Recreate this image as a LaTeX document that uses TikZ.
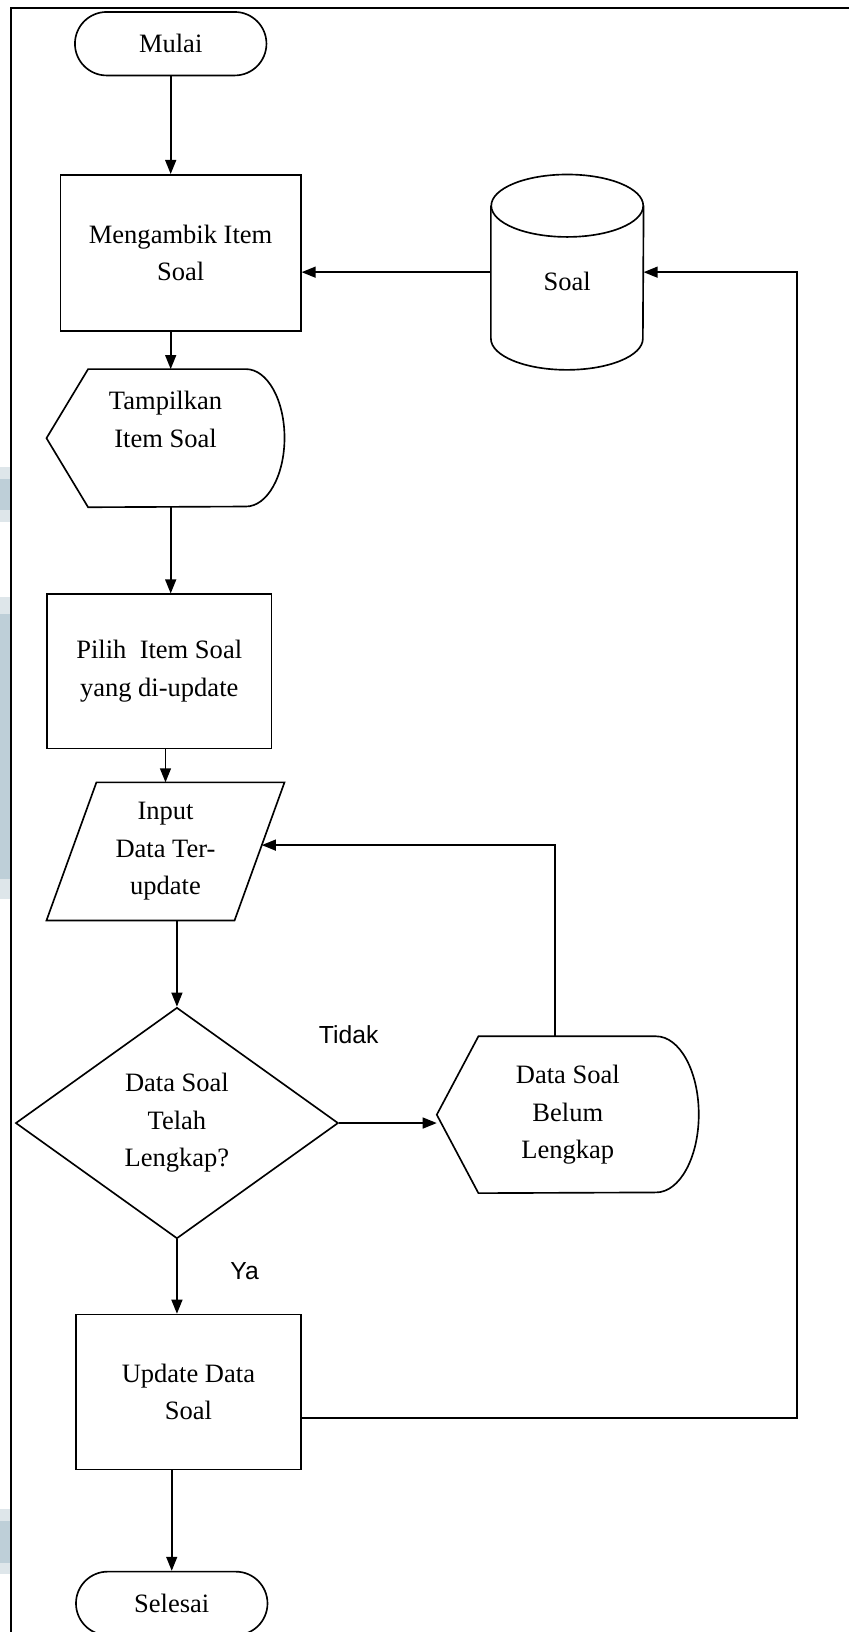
\documentclass[tikz,border=0pt]{standalone}
\usepackage{fontspec}
\setmainfont{Liberation Serif}
\newfontfamily\labelfont{Liberation Sans}
\usetikzlibrary{shapes.geometric, shapes.misc, arrows.meta, calc}
\definecolor{edgeblue}{RGB}{190, 207, 216}
\definecolor{edgepale}{RGB}{222, 230, 234}

% display shape: node, left inset, right x radius, half height
\newcommand{\dispoutline}[4]{%
  \draw[line width=0.9pt] (#1.west) -- ([xshift=#2]#1.north west) -- ([xshift=-#3]#1.north east)
    arc[start angle=90, end angle=-90, x radius=#3, y radius=#4] -- ([xshift=#2]#1.south west) -- cycle;}

\begin{document}
\begin{tikzpicture}[
  txt/.style={align=center, inner sep=0pt, font=\fontsize{14.5pt}{20.5pt}\selectfont},
  proc/.style={txt, draw, line width=0.9pt},
  term/.style={txt, draw, line width=0.9pt, rounded rectangle, minimum width=3.68cm, minimum height=1.22cm},
  bare/.style={txt},
  arr/.style={line width=0.9pt, -{Triangle[length=0.27cm, width=0.21cm]}},
  line/.style={line width=0.9pt},
  yesno/.style={inner sep=0pt, font=\labelfont\fontsize{13.5pt}{16pt}\selectfont}
]
  \useasboundingbox (0,0) rectangle (16.32,-31.36);
  % scan marks at the left edge
  \fill[edgepale] (0,-8.98) rectangle (0.2,-10.04);
  \fill[edgeblue] (0,-9.2) rectangle (0.2,-9.8);
  \fill[edgepale] (0,-11.48) rectangle (0.2,-17.28);
  \fill[edgeblue] (0,-11.8) rectangle (0.2,-16.9);
  \fill[edgepale] (0,-29.0) rectangle (0.2,-30.24);
  \fill[edgeblue] (0,-29.22) rectangle (0.2,-30.04);
  \draw[line width=1.1pt] (0.22,-31.36) -- (0.22,-0.16) -- (16.32,-0.16);

  % nodes
  \node[term] (mulai) at (3.28,-0.84) {Mulai};
  \node[proc, minimum width=4.62cm, minimum height=3.0cm] (ambil) at (3.47,-4.86) {Mengambik Item\\Soal};
  \node[bare, minimum width=2.92cm, minimum height=3.74cm] (soal) at (10.9,-5.23) {\mbox{}\\Soal};
  \node[bare, minimum width=4.56cm, minimum height=2.64cm] (tampil) at (3.18,-8.42) {Tampilkan\\Item Soal\\\mbox{}};
  \node[proc, minimum width=4.32cm, minimum height=2.96cm] (pilih) at (3.06,-12.9) {Pilih\ \ Item Soal\\yang di-update};
  \node[bare, minimum width=4.56cm, minimum height=2.64cm] (input) at (3.18,-16.36) {Input\\Data Ter-\\update};
  \node[txt, draw, line width=0.9pt, diamond, minimum width=6.2cm, minimum height=4.44cm] (dia) at (3.4,-21.58) {Data Soal\\Telah\\Lengkap?};
  \node[bare, minimum width=5.02cm, minimum height=3.0cm] (belum) at (10.91,-21.42) {Data Soal\\Belum\\Lengkap};
  \node[proc, minimum width=4.32cm, minimum height=2.98cm] (upd) at (3.62,-26.75) {Update Data\\Soal};
  \node[term] (sel) at (3.3,-30.81) {Selesai};
  \node[yesno] (tidak) at (6.7,-19.88) {Tidak};
  \node[yesno] (ya) at (4.7,-24.42) {Ya};

  % outlines
  \draw[line] ([yshift=-0.6cm]soal.north west) -- ([yshift=0.6cm]soal.south west)
    arc[start angle=180, end angle=360, x radius=1.46cm, y radius=0.6cm] -- ([yshift=-0.6cm]soal.north east);
  \draw[line] ([yshift=-0.6cm]soal.north) ellipse[x radius=1.46cm, y radius=0.6cm];
  \dispoutline{tampil}{0.8cm}{0.74cm}{1.32cm}
  \dispoutline{belum}{0.8cm}{0.82cm}{1.5cm}
  \draw[line] ([xshift=0.96cm]input.north west) -- (input.north east) -- ([xshift=-0.96cm]input.south east) -- (input.south west) -- cycle;

  % connectors
  \coordinate (inR) at ($(input.north east)!0.4545!([xshift=-0.96cm]input.south east)$);
  \coordinate (back) at (15.32,0);
  \draw[arr] (mulai.south) -- (mulai.south |- ambil.north);
  \draw[arr] (ambil.south -| mulai.south) -- (tampil.north -| mulai.south);
  \draw[arr] (soal.west) -- (soal.west -| ambil.east);
  \draw[arr] (tampil.south -| mulai.south) -- (pilih.north -| mulai.south);
  \draw[arr] (pilih.south -| input.north) -- (input.north);
  \draw[arr] (input.south -| dia.north) -- (dia.north);
  \draw[arr] (dia.east) -- (dia.east -| belum.west);
  \draw[arr] ([xshift=-0.24cm]belum.north) |- (inR);
  \draw[arr] (dia.south) -- (dia.south |- upd.north);
  \draw[arr] ([yshift=-0.5cm]upd.east) -| (back |- soal.east) -- (soal.east);
  \draw[arr] (upd.south -| sel.north) -- (sel.north);
\end{tikzpicture}
\end{document}
